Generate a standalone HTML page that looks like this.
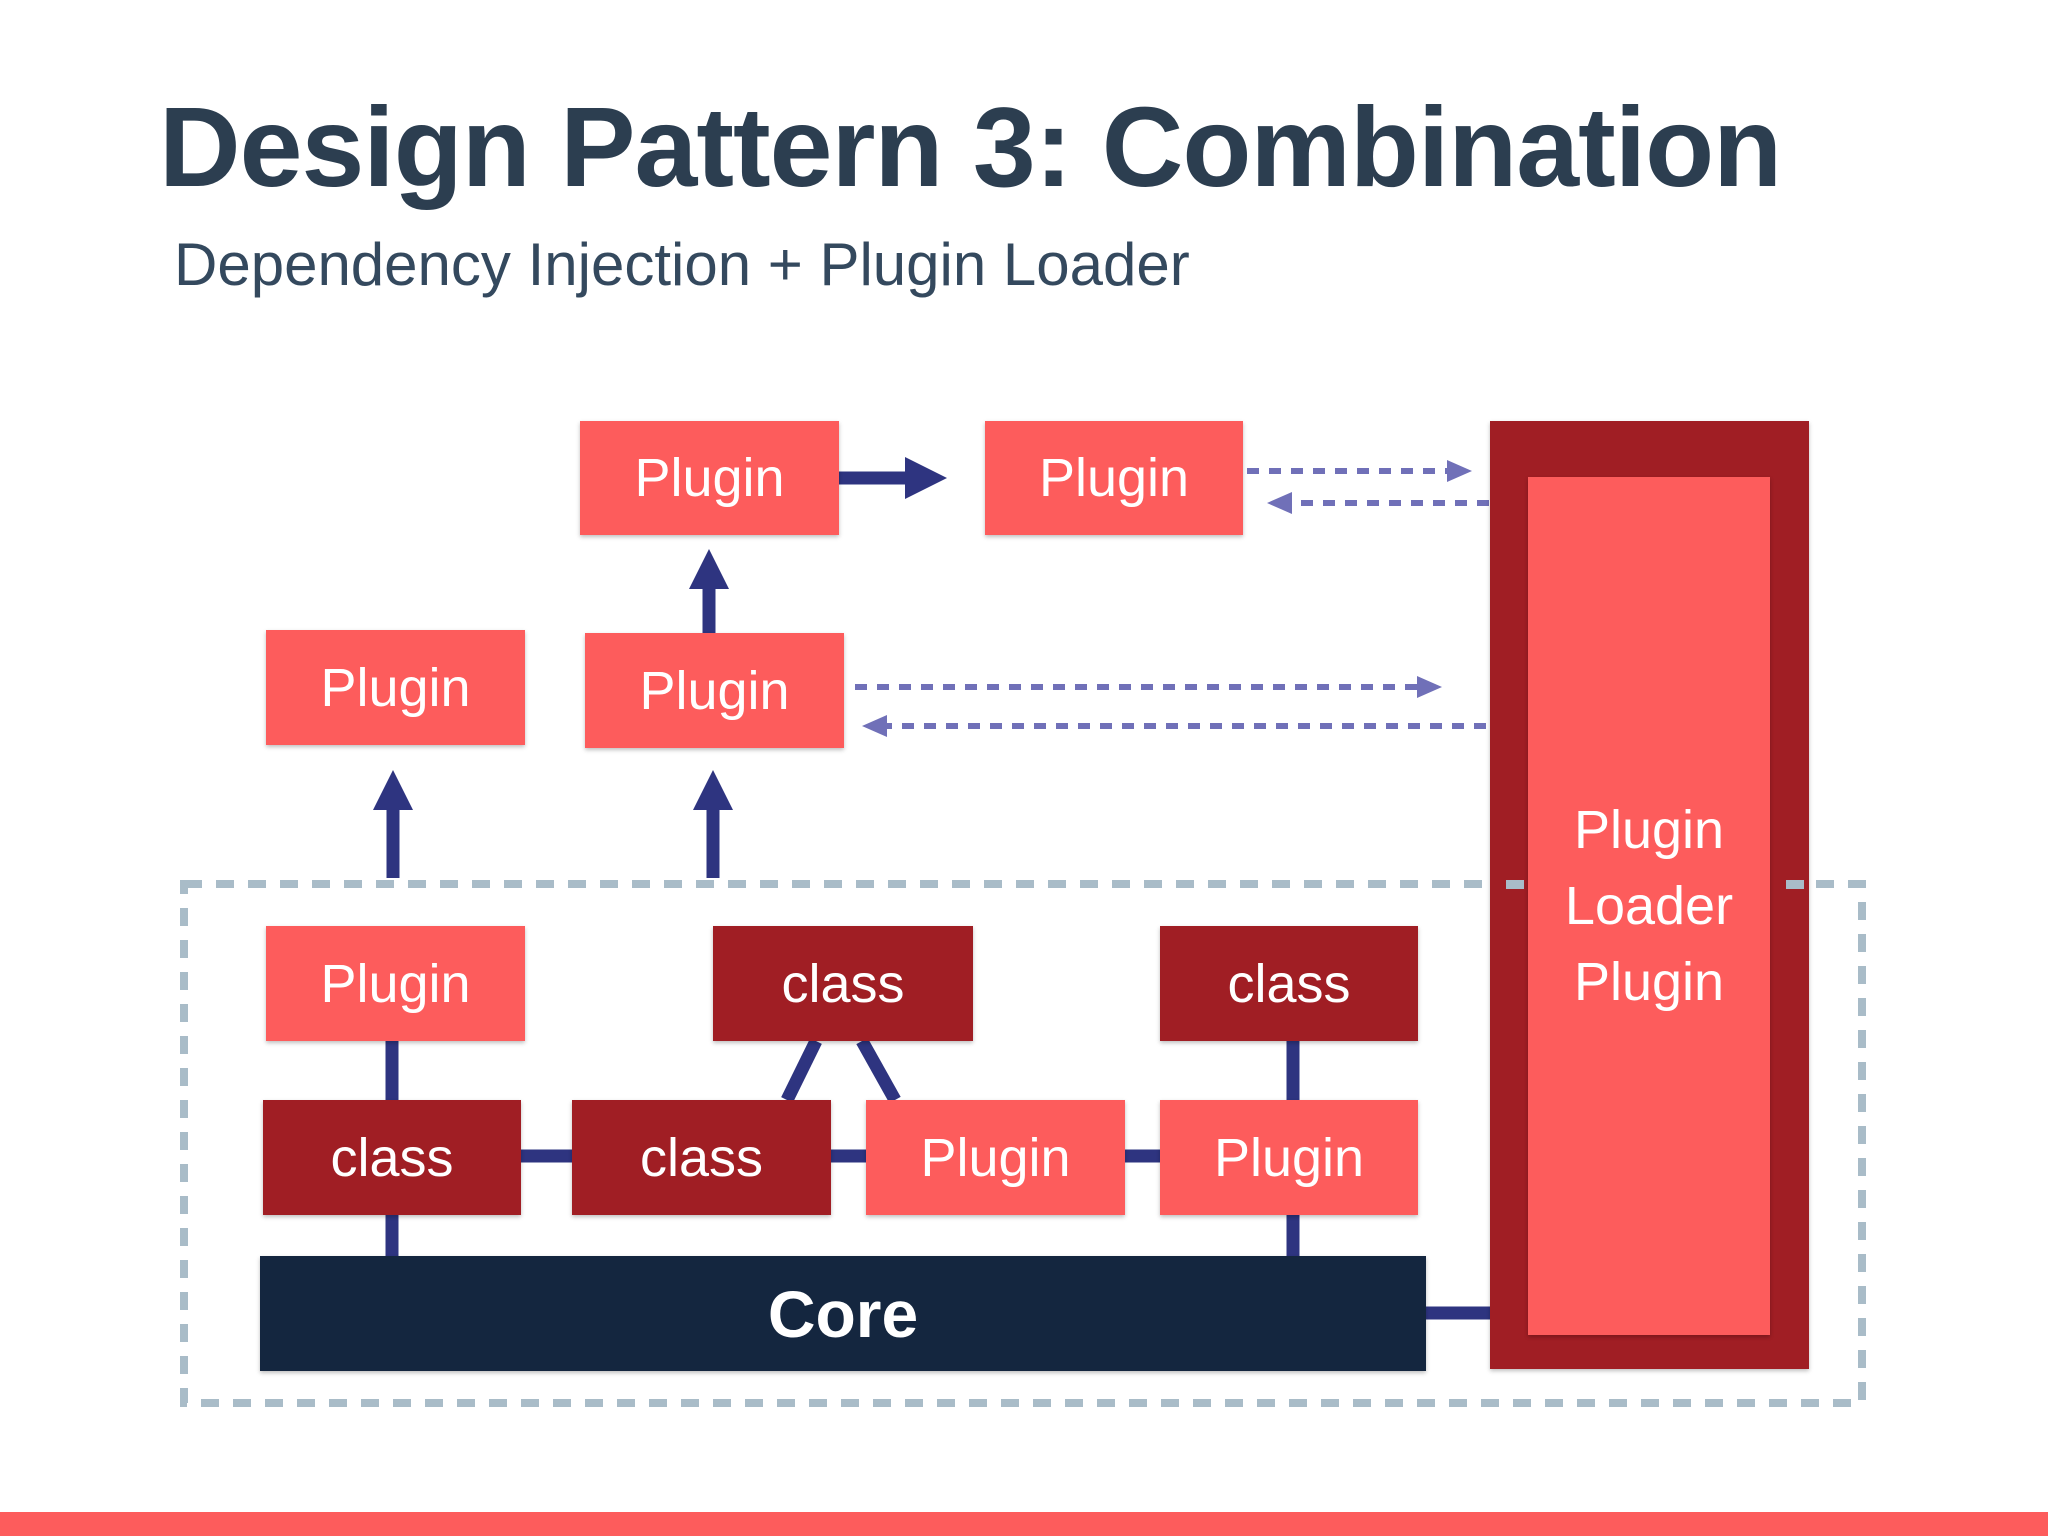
<!DOCTYPE html><html><head><style>
body{margin:0;width:2048px;height:1536px;background:#fff;position:relative;overflow:hidden;font-family:"Liberation Sans",sans-serif}
.t{position:absolute;left:159px;top:82px;font-size:113px;font-weight:bold;color:#2c3e50;letter-spacing:-1px}
.s{position:absolute;left:174px;top:230px;font-size:60px;color:#34495e}
.b{position:absolute;display:flex;align-items:center;justify-content:center;color:#fff;font-size:54px;box-shadow:0 2px 4px rgba(0,0,0,.25)}
.p{background:#fd5c5c}.c{background:#a01e24}
.bar{position:absolute;left:0;top:1512px;width:2048px;height:24px;background:#fd5c5c}
svg{position:absolute;left:0;top:0}
.sq{position:absolute;width:18px;height:9px;background:#a9bcc8;top:880px}
</style></head><body>
<div class="t">Design Pattern 3: Combination</div>
<div class="s">Dependency Injection + Plugin Loader</div>
<svg width="2048" height="1536">
<rect x="184" y="884" width="1678" height="519" fill="none" stroke="#a9bcc8" stroke-width="8" stroke-dasharray="18 14"/>
<g stroke="#2e3480" stroke-width="13" fill="none">
<line x1="839" y1="478" x2="910" y2="478"/>
<line x1="709" y1="633" x2="709" y2="585"/>
<line x1="393" y1="878" x2="393" y2="805"/>
<line x1="713" y1="878" x2="713" y2="805"/>
<line x1="392" y1="1041" x2="392" y2="1256"/>
<line x1="1293" y1="1041" x2="1293" y2="1256"/>
<line x1="521" y1="1156" x2="1160" y2="1156"/>
<line x1="816" y1="1041" x2="787" y2="1100"/>
<line x1="862" y1="1041" x2="895" y2="1100"/>
<line x1="1426" y1="1313" x2="1528" y2="1313"/>
</g>
<g fill="#2e3480">
<polygon points="905,457 947,478 905,499"/>
<polygon points="689,589 709,549 729,589"/>
<polygon points="373,810 393,770 413,810"/>
<polygon points="693,810 713,770 733,810"/>
</g>
<g stroke="#7070b8" stroke-width="6" stroke-dasharray="12 10">
<line x1="1247" y1="471" x2="1452" y2="471"/>
<line x1="1489" y1="503" x2="1290" y2="503"/>
<line x1="855" y1="687" x2="1422" y2="687"/>
<line x1="1486" y1="726" x2="885" y2="726"/>
</g>
<g fill="#7070b8">
<polygon points="1447,460 1472,471 1447,482"/>
<polygon points="1292,492 1267,503 1292,514"/>
<polygon points="1417,676 1442,687 1417,698"/>
<polygon points="887,715 862,726 887,737"/>
</g>
</svg>
<div class="b p" style="left:580px;top:421px;width:259px;height:114px">Plugin</div>
<div class="b p" style="left:985px;top:421px;width:258px;height:114px">Plugin</div>
<div class="b p" style="left:266px;top:630px;width:259px;height:115px">Plugin</div>
<div class="b p" style="left:585px;top:633px;width:259px;height:115px">Plugin</div>
<div class="b c" style="left:1490px;top:421px;width:319px;height:948px"></div>
<div class="sq" style="left:1506px"></div>
<div class="sq" style="left:1786px"></div>
<div class="b p" style="left:1528px;top:477px;width:242px;height:858px;line-height:76px;text-align:center">Plugin<br>Loader<br>Plugin</div>
<div class="b p" style="left:266px;top:926px;width:259px;height:115px">Plugin</div>
<div class="b c" style="left:713px;top:926px;width:260px;height:115px">class</div>
<div class="b c" style="left:1160px;top:926px;width:258px;height:115px">class</div>
<div class="b c" style="left:263px;top:1100px;width:258px;height:115px">class</div>
<div class="b c" style="left:572px;top:1100px;width:259px;height:115px">class</div>
<div class="b p" style="left:866px;top:1100px;width:259px;height:115px">Plugin</div>
<div class="b p" style="left:1160px;top:1100px;width:258px;height:115px">Plugin</div>
<div class="b" style="left:260px;top:1256px;width:1166px;height:115px;background:#14263f;font-weight:bold;font-size:66px">Core</div>
<div class="bar"></div>
</body></html>
